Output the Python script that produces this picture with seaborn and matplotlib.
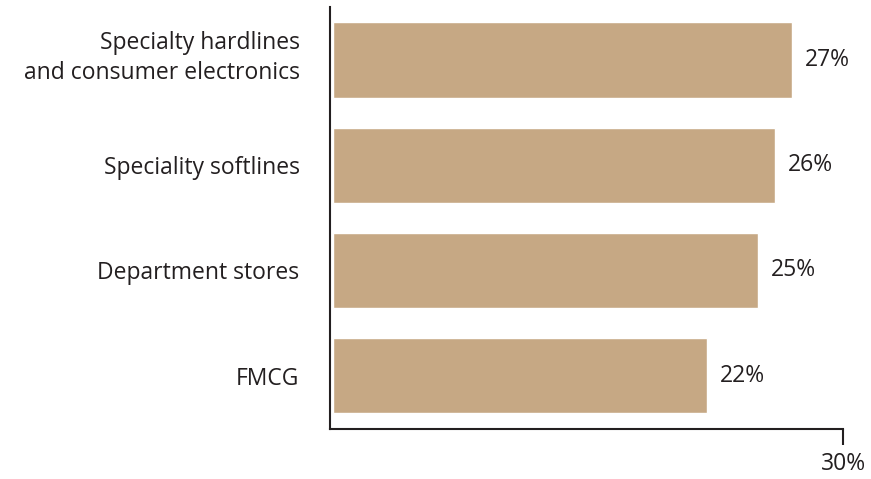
import matplotlib
matplotlib.use("Agg")
import matplotlib.pyplot as plt
import matplotlib.transforms as mtransforms
import seaborn as sns
import pandas as pd

categories = ["Specialty hardlines\nand consumer electronics", "Speciality softlines",
              "Department stores", "FMCG"]
values = [27, 26, 25, 22]
value_labels = ["27%", "26%", "25%", "22%"]
x_ticks = [30]
x_tick_labels = ["30%"]

sns.set_theme(style="white")
plt.rcParams["font.family"] = ["Open Sans", "DejaVu Sans"]
dark = "#231F20"
fs = 16.5

df = pd.DataFrame({"category": categories, "value": values})

fig = plt.figure(figsize=(8.71, 4.79), dpi=100)
ax = fig.add_axes([0.379, 0.104, 0.589, 0.881])
sns.barplot(data=df, x="value", y="category", color="#C6A884", saturation=1,
            width=0.72, ax=ax)

ax.bar_label(ax.containers[0], labels=value_labels, padding=9, fontsize=fs, color=dark)

ax.set_xlim(-0.18, 30)
ax.set_ylim(3.51, -0.505)
ax.set_xticks(x_ticks)
ax.set_xticklabels(x_tick_labels, fontsize=fs, color=dark)
ax.tick_params(axis="x", direction="out", length=11.5, width=1.5, color=dark, pad=5, bottom=True)
ax.tick_params(axis="y", length=0, pad=22, labelsize=fs, labelcolor=dark)
for t in ax.get_yticklabels():
    t.set_linespacing(1.3)
# the two-line label sits a little higher in the original
first = ax.get_yticklabels()[0]
first.set_transform(first.get_transform() +
                    mtransforms.ScaledTranslation(0, 0.08, fig.dpi_scale_trans))
ax.set_xlabel("")
ax.set_ylabel("")

for s in ["top", "right"]:
    ax.spines[s].set_visible(False)
for s in ["left", "bottom"]:
    ax.spines[s].set_color(dark)
    ax.spines[s].set_linewidth(1.5)

fig.savefig("out.png", dpi=100)
